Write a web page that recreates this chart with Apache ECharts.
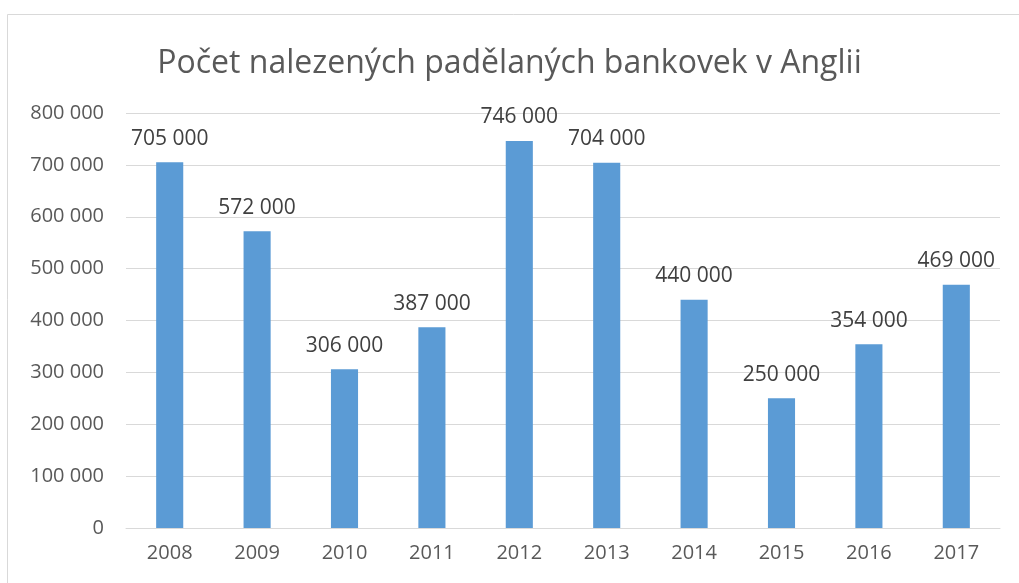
<!DOCTYPE html>
<html>
<head>
<meta charset="utf-8">
<script src="https://cdn.jsdelivr.net/npm/echarts@6/dist/echarts.min.js"></script>
<style>
  html, body { margin: 0; padding: 0; background: #fff; }
  #chart { width: 1019px; height: 583px; }
</style>
</head>
<body>
<div id="chart"></div>
<script>
// Data
const roky = ['2008', '2009', '2010', '2011', '2012', '2013', '2014', '2015', '2016', '2017'];
const pocty = [705000, 572000, 306000, 387000, 746000, 704000, 440000, 250000, 354000, 469000];

function formatCislo(v) {
  return String(v).replace(/\B(?=(\d{3})+(?!\d))/g, ' ');
}

const chart = echarts.init(document.getElementById('chart'), null, { renderer: 'canvas' });

const option = {
  backgroundColor: '#fff',
  animation: false,
  textStyle: { fontFamily: 'Open Sans' },
  title: {
    text: 'Počet nalezených padělaných bankovek v Anglii',
    left: 'center',
    top: 43,
    textStyle: { fontSize: 32, fontWeight: 'normal', color: '#595959', fontFamily: 'Open Sans' }
  },
  graphic: [{
    type: 'rect',
    shape: { x: 7.5, y: 14.5, width: 1030, height: 600 },
    style: { fill: 'none', stroke: '#d9d9d9', lineWidth: 1 },
    silent: true
  }],
  grid: { left: 126, right: 19, top: 113, bottom: 55 },
  xAxis: {
    type: 'category',
    data: roky,
    axisLine: { lineStyle: { color: '#d9d9d9', width: 1 } },
    axisTick: { show: false },
    axisLabel: { fontSize: 20, color: '#595959', margin: 15 }
  },
  yAxis: {
    type: 'value',
    min: 0,
    max: 800000,
    interval: 100000,
    axisLine: { show: false },
    axisTick: { show: false },
    splitLine: { lineStyle: { color: '#d9d9d9', width: 1 } },
    axisLabel: {
      fontSize: 20,
      color: '#595959',
      margin: 22,
      formatter: formatCislo
    }
  },
  series: [{
    type: 'bar',
    data: pocty,
    barWidth: '31%',
    itemStyle: { color: '#5b9bd5' },
    label: {
      show: true,
      position: 'top',
      distance: 13,
      fontSize: 21,
      color: '#404040',
      formatter: function(p) { return formatCislo(p.value); }
    }
  }]
};

chart.setOption(option);
</script>
</body>
</html>
